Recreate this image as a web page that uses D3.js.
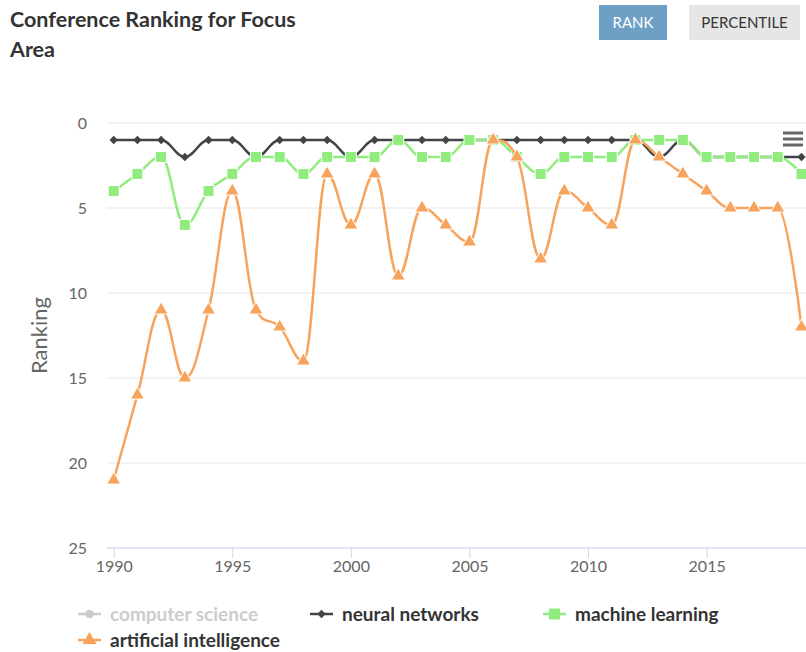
<!DOCTYPE html>
<html>
<head>
<meta charset="utf-8">
<script src="https://d3js.org/d3.v7.min.js"></script>
<style>
  html, body { margin: 0; padding: 0; background: #fff; }
  svg { display: block; }
</style>
</head>
<body>
<div id="chart"></div>
<script>
// Chart data
const years = d3.range(1990, 2020);
const neuralNetworks = [1, 1, 1, 2, 1, 1, 2, 1, 1, 1, 2, 1, 1, 1, 1, 1, 1, 1, 1, 1, 1, 1, 1, 2, 1, 2, 2, 2, 2, 2];
const machineLearning = [4, 3, 2, 6, 4, 3, 2, 2, 3, 2, 2, 2, 1, 2, 2, 1, 1, 2, 3, 2, 2, 2, 1, 1, 1, 2, 2, 2, 2, 3];
const artificialIntelligence = [21, 16, 11, 15, 11, 4, 11, 12, 14, 3, 6, 3, 9, 5, 6, 7, 1, 2, 8, 4, 5, 6, 1, 2, 3, 4, 5, 5, 5, 12];
const yTicks = [0, 5, 10, 15, 20, 25];
const xTicks = [1990, 1995, 2000, 2005, 2010, 2015];

const series = [
    { name: 'computer science', color: '#7cb5ec', symbol: 'circle', values: null, visible: false },
    { name: 'neural networks', color: '#434348', symbol: 'diamond', values: neuralNetworks, visible: true },
    { name: 'machine learning', color: '#90ed7d', symbol: 'square', values: machineLearning, visible: true },
    { name: 'artificial intelligence', color: '#f7a35c', symbol: 'triangle', values: artificialIntelligence, visible: true }
];

const width = 806, height = 652;
const plotLeft = 107, plotRight = 806, plotTop = 123, plotBottom = 548;
const font = 'Lato, "Open Sans", sans-serif';

const svg = d3.select('#chart').append('svg')
    .attr('width', width)
    .attr('height', height)
    .style('font-family', font);

const x = d3.scaleLinear().domain([1990, 2019]).range([113.7, 801.5]);
const y = d3.scaleLinear().domain([0, 25]).range([plotTop, plotBottom]);

// Title
const title = svg.append('text')
    .attr('font-size', 21.5)
    .attr('font-weight', 'bold')
    .attr('fill', '#333');
title.append('tspan').attr('x', 10).attr('y', 27).text('Conference Ranking for Focus');
title.append('tspan').attr('x', 10).attr('y', 57).text('Area');

// Buttons
function button(bx, bw, label, fill, color) {
    const b = svg.append('g').attr('transform', `translate(${bx},5)`);
    b.append('rect').attr('width', bw).attr('height', 35).attr('fill', fill);
    b.append('text')
        .attr('x', bw / 2).attr('y', 23)
        .attr('text-anchor', 'middle')
        .attr('font-size', 15)
        .attr('fill', color)
        .text(label);
}
button(599, 68, 'RANK', '#6e9fc4', '#fff');
button(689, 111, 'PERCENTILE', '#e6e6e6', '#333');

// Grid lines
svg.append('g')
    .selectAll('line')
    .data(yTicks)
    .join('line')
    .attr('x1', plotLeft).attr('x2', plotRight)
    .attr('y1', d => y(d)).attr('y2', d => y(d))
    .attr('stroke', '#e6e6e6')
    .attr('stroke-width', 1);

// Y axis labels
const yAxis = svg.append('g')
    .attr('transform', `translate(${plotLeft - 20},0)`)
    .call(d3.axisLeft(y).tickValues(yTicks).tickSize(0).tickPadding(0));
yAxis.select('.domain').remove();
yAxis.selectAll('text')
    .attr('font-size', 16)
    .attr('font-family', font)
    .attr('fill', '#666');

// Y axis title
svg.append('text')
    .attr('transform', `translate(47,${(plotTop + plotBottom) / 2}) rotate(-90)`)
    .attr('text-anchor', 'middle')
    .attr('font-size', 22)
    .attr('fill', '#666')
    .text('Ranking');

// X axis
const xAxis = svg.append('g')
    .attr('transform', `translate(0,${plotBottom})`)
    .call(d3.axisBottom(x).tickValues(xTicks).tickFormat(d3.format('d')).tickSize(10).tickPadding(3));
xAxis.select('.domain').remove();
xAxis.append('line')
    .attr('x1', plotLeft).attr('x2', plotRight)
    .attr('stroke', '#ccd6eb');
xAxis.selectAll('.tick line').attr('stroke', '#ccd6eb');
xAxis.selectAll('text')
    .attr('font-size', 16)
    .attr('font-family', font)
    .attr('fill', '#666');

// Highcharts-like spline curve
function splinePath(pts) {
    const smoothing = 1.5, denom = smoothing + 1;
    const p = d3.path();
    pts.forEach((pt, i) => {
        const last = pts[i - 1], next = pts[i + 1];
        let lcx, lcy;
        if (last && next) {
            lcx = (smoothing * pt[0] + last[0]) / denom;
            lcy = (smoothing * pt[1] + last[1]) / denom;
            const rcx = (smoothing * pt[0] + next[0]) / denom;
            let rcy = (smoothing * pt[1] + next[1]) / denom;
            const correction = ((rcy - lcy) * (rcx - pt[0])) / (rcx - lcx) + pt[1] - rcy;
            lcy += correction;
            rcy += correction;
            if (lcy > last[1] && lcy > pt[1]) {
                lcy = Math.max(last[1], pt[1]); rcy = 2 * pt[1] - lcy;
            } else if (lcy < last[1] && lcy < pt[1]) {
                lcy = Math.min(last[1], pt[1]); rcy = 2 * pt[1] - lcy;
            }
            if (rcy > next[1] && rcy > pt[1]) {
                rcy = Math.max(next[1], pt[1]); lcy = 2 * pt[1] - rcy;
            } else if (rcy < next[1] && rcy < pt[1]) {
                rcy = Math.min(next[1], pt[1]); lcy = 2 * pt[1] - rcy;
            }
            pt.rc = [rcx, rcy];
        }
        if (i === 0) {
            p.moveTo(pt[0], pt[1]);
        } else {
            const c1 = last.rc || last;
            const c2 = lcx !== undefined ? [lcx, lcy] : pt;
            p.bezierCurveTo(c1[0], c1[1], c2[0], c2[1], pt[0], pt[1]);
        }
    });
    return p.toString();
}

function symbolPath(type, size) {
    const map = { circle: d3.symbolCircle, diamond: d3.symbolDiamond2, square: d3.symbolSquare, triangle: d3.symbolTriangle };
    return d3.symbol().type(map[type]).size(size)();
}
const markerSize = { circle: 60, diamond: 45, square: 120, triangle: 85 };

series.filter(s => s.visible).forEach(s => {
    const pts = s.values.map((v, i) => [x(years[i]), y(v)]);
    const g = svg.append('g');
    g.append('path')
        .attr('d', splinePath(pts))
        .attr('fill', 'none')
        .attr('stroke', s.color)
        .attr('stroke-width', 2.5)
        .attr('stroke-linejoin', 'round');
    g.selectAll('path.marker')
        .data(s.values)
        .join('path')
        .attr('class', 'marker')
        .attr('transform', (d, i) => `translate(${x(years[i])},${y(d)})`)
        .attr('d', symbolPath(s.symbol, markerSize[s.symbol]))
        .attr('fill', s.color)
        .attr('stroke', s.symbol === 'diamond' ? 'none' : '#fff')
        .attr('stroke-width', 1);
});

// Context menu icon
svg.append('g')
    .selectAll('line')
    .data([0, 6, 12])
    .join('line')
    .attr('x1', 783).attr('x2', 803)
    .attr('y1', d => 133 + d).attr('y2', d => 133 + d)
    .attr('stroke', '#666')
    .attr('stroke-width', 3);

// Legend
const legendItems = [
    { s: series[0], x: 78, y: 614 },
    { s: series[1], x: 310, y: 614 },
    { s: series[2], x: 543, y: 614 },
    { s: series[3], x: 78, y: 640 }
];
legendItems.forEach(item => {
    const color = item.s.visible ? item.s.color : '#ccc';
    const g = svg.append('g').attr('transform', `translate(${item.x},${item.y})`);
    g.append('line').attr('x1', 0).attr('x2', 23).attr('stroke', color).attr('stroke-width', 2.5);
    g.append('path')
        .attr('transform', 'translate(11.5,0)')
        .attr('d', symbolPath(item.s.symbol, markerSize[item.s.symbol]))
        .attr('fill', color);
    g.append('text')
        .attr('x', 32).attr('y', 6.5)
        .attr('font-size', 19)
        .attr('font-weight', 'bold')
        .attr('fill', item.s.visible ? '#333' : '#ccc')
        .text(item.s.name);
});
</script>
</body>
</html>
